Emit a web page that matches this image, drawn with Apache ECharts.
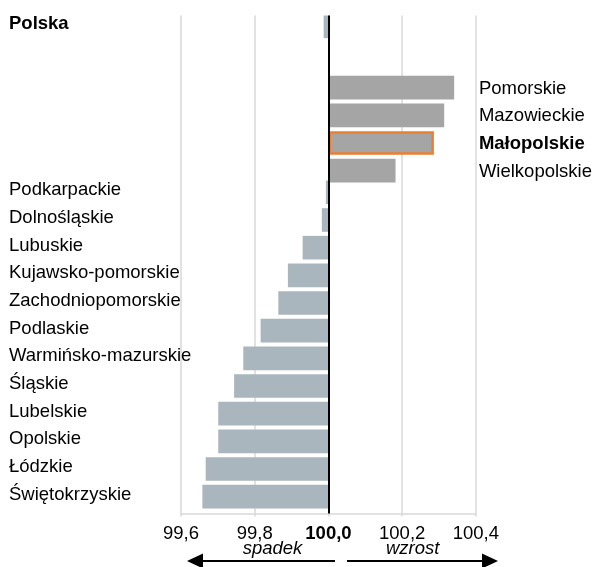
<!DOCTYPE html>
<html>
<head>
<meta charset="utf-8">
<script src="https://cdn.jsdelivr.net/npm/echarts@6/dist/echarts.min.js"></script>
<style>
    html, body { margin: 0; padding: 0; background: #fff; }
    #chart { width: 595px; height: 567px; }
</style>
</head>
<body>
<div id="chart"></div>
<script>
// województwa od góry do dołu, pusty wiersz oddziela Polskę
const regions = ['Polska', '', 'Pomorskie', 'Mazowieckie', 'Małopolskie', 'Wielkopolskie',
    'Podkarpackie', 'Dolnośląskie', 'Lubuskie', 'Kujawsko-pomorskie', 'Zachodniopomorskie',
    'Podlaskie', 'Warmińsko-mazurskie', 'Śląskie', 'Lubelskie', 'Opolskie', 'Łódzkie', 'Świętokrzyskie']
// indeks, poprzedni okres = 100
const indexValues = [99.987, null, 100.341, 100.314, 100.286, 100.182,
    99.993, 99.982, 99.930, 99.890, 99.864,
    99.816, 99.769, 99.744, 99.701, 99.701, 99.667, 99.658]
const xTickLabels = ['99,6', '99,8', '100,0', '100,2', '100,4']
const baseline = 100
const highlighted = 'Małopolskie'

const FONT = "'Liberation Sans', Arial, sans-serif"
const FS = 18.5

const chart = echarts.init(document.getElementById('chart'))

// słupki rysowane od 100 jako odchylenie
const growthData = indexValues.map((v, i) => {
    if (v === null || v <= baseline) return null
    if (regions[i] === highlighted) {
        return { value: v - baseline, itemStyle: { borderColor: '#ED7D31', borderWidth: 2.5 } }
    }
    return v - baseline
})
const declineData = indexValues.map(v => (v === null || v >= baseline) ? null : v - baseline)

const labelRich = {
    n: { fontFamily: FONT, fontSize: FS, color: '#000' },
    b: { fontFamily: FONT, fontSize: FS, color: '#000', fontWeight: 'bold' }
}

const option = {
    animation: false,
    grid: { left: 181, right: 118.3, top: 15.5, bottom: 53.5 },
    xAxis: {
        type: 'value',
        min: -0.4,
        max: 0.4,
        interval: 0.2,
        axisLine: { show: true, lineStyle: { color: '#d9d9d9', width: 1.5 } },
        axisTick: { show: true, length: 3, lineStyle: { color: '#d9d9d9', width: 1.5 } },
        splitLine: { show: true, lineStyle: { color: '#d9d9d9', width: 1.5 } },
        axisLabel: {
            margin: 11,
            formatter: val => {
                const idx = Math.round((val + 0.4) / 0.2)
                return idx === 2 ? '{b|' + xTickLabels[idx] + '}' : '{n|' + xTickLabels[idx] + '}'
            },
            rich: labelRich
        }
    },
    yAxis: [
        {
            type: 'category',
            inverse: true,
            data: regions,
            position: 'left',
            axisLine: { show: false },
            axisTick: { show: false },
            axisLabel: {
                align: 'left',
                margin: 172,
                padding: [0, 0, 10, 0],
                formatter: (name, i) => {
                    const v = indexValues[i]
                    if (v === null || v >= baseline) return ''
                    return name === 'Polska' ? '{b|' + name + '}' : '{n|' + name + '}'
                },
                rich: labelRich
            }
        },
        {
            type: 'category',
            inverse: true,
            data: regions,
            position: 'right',
            axisLine: { show: false },
            axisTick: { show: false },
            axisLabel: {
                align: 'left',
                margin: 3,
                padding: [8, 0, 0, 0],
                formatter: (name, i) => {
                    const v = indexValues[i]
                    if (v === null || v <= baseline) return ''
                    return name === highlighted ? '{b|' + name + '}' : '{n|' + name + '}'
                },
                rich: labelRich
            }
        }
    ],
    series: [
        {
            name: 'spadek',
            type: 'bar',
            yAxisIndex: 0,
            data: declineData,
            barWidth: 23.6,
            barGap: '-74.6%',
            itemStyle: { color: '#a9b6bd' },
            markLine: {
                silent: true,
                symbol: 'none',
                label: { show: false },
                lineStyle: { color: '#000', width: 2, type: 'solid' },
                data: [{ xAxis: 0 }]
            }
        },
        {
            name: 'wzrost',
            type: 'bar',
            yAxisIndex: 0,
            data: growthData,
            barWidth: 23.6,
            barGap: '-74.6%',
            itemStyle: { color: '#a5a5a5' }
        }
    ],
    graphic: [
        { type: 'text', left: 242.7, top: 539, style: { text: 'spadek', font: 'italic ' + FS + 'px ' + FONT, fill: '#000' } },
        { type: 'text', left: 386, top: 539, style: { text: 'wzrost', font: 'italic ' + FS + 'px ' + FONT, fill: '#000' } },
        { type: 'line', shape: { x1: 335, y1: 561, x2: 200, y2: 561 }, style: { stroke: '#000', lineWidth: 2 } },
        { type: 'polygon', shape: { points: [[187, 561], [203, 553.5], [203, 568.5]] }, style: { fill: '#000' } },
        { type: 'line', shape: { x1: 347, y1: 561, x2: 485, y2: 561 }, style: { stroke: '#000', lineWidth: 2 } },
        { type: 'polygon', shape: { points: [[498, 561], [482, 553.5], [482, 568.5]] }, style: { fill: '#000' } }
    ]
}

chart.setOption(option)
</script>
</body>
</html>
